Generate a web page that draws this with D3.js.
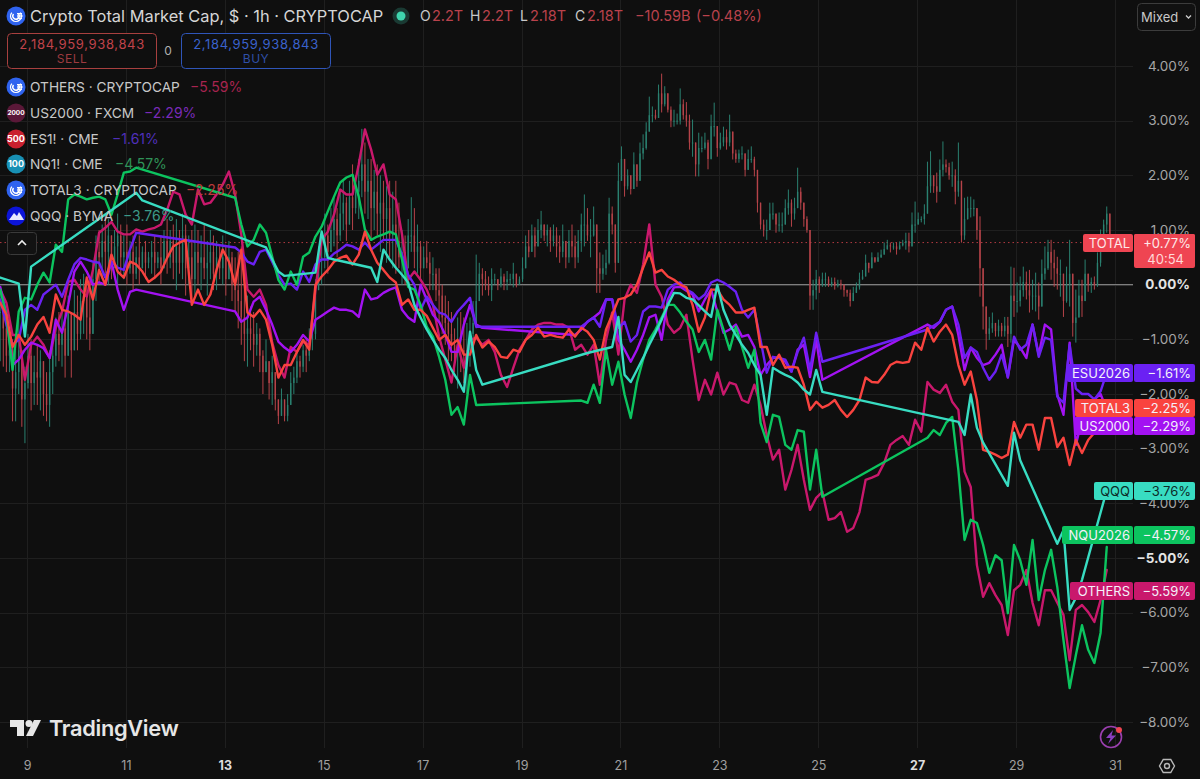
<!DOCTYPE html>
<html><head><meta charset="utf-8">
<script src="https://cdn.jsdelivr.net/npm/d3@7"></script>
<style>
html,body{margin:0;padding:0;background:#0f0f0f;overflow:hidden}
svg{display:block}
text{font-family:Inter,"Noto Sans",sans-serif}
</style></head><body><svg id="chart" width="1200" height="779"></svg>
<script>
// Percent change readings, one row = two days. Line samples every 3 hours, null = market closed.
const others = [
-0.09,-0.33,-0.92,-0.92,-1.74,-1.10,-0.95,-1.10,-1.34,-0.79,-0.49,0.05,0.09,-0.09,-0.22,0.27,
0.95,1.04,1.15,0.97,0.92,0.92,1.01,0.97,1.01,1.04,1.10,1.37,1.70,1.65,1.28,1.10,
1.74,1.47,1.50,1.65,1.83,2.07,1.65,0.92,-0.09,-0.22,-0.09,-0.37,-1.06,-1.47,-1.70,-1.14,
-1.23,-1.04,-1.10,-0.09,0.82,0.97,1.28,1.74,1.65,1.65,2.20,2.84,2.47,2.01,2.20,1.65,
1.56,0.92,0.09,0.24,0.09,-0.09,-0.37,-0.95,-1.37,-1.79,-1.10,-1.52,-1.01,-0.97,-1.10,-1.01,
-1.23,-1.65,-1.87,-1.52,-1.19,-1.01,-0.82,-0.73,-0.70,-0.70,-0.73,-0.73,-0.79,-1.19,-1.10,-1.28,
-1.10,-1.83,-1.01,-0.51,-1.28,-0.27,0,-0.15,0.37,1.10,0,-0.22,-0.73,-0.88,-0.79,-0.55,
-1.37,-2.11,-1.74,-2.01,-1.61,-2.01,-1.79,-1.83,-2.11,-2.16,-1.83,-2.20,-2.75,-3.20,-3.02,-3.75,
-3.39,-2.93,-3.57,-4.12,-3.90,-3.79,-4.30,-4.27,-4.16,-4.52,-4.45,-4.16,-3.57,-3.53,-3.48,-3.26,
-2.93,-2.84,-2.77,-2.93,-2.47,-2.69,-1.78,-1.92,-1.98,-1.83,-2.14,-2.29,-3.42,-3.70,-5.13,-5.71,
-5.46,-5.68,-5.86,-6.41,-5.59,-5.49,-5.22,-5.82,-6.23,-5.59,-5.59,-5.82,-6.04,-6.87,-5.95,-5.86,
-5.99,-6.17,-5.77,-5.22];
const us2000 = [
-0.04,-0.55,-1.47,-1.37,-1.19,-1.06,-1.10,-1.16,-1.34,-0.64,-0.88,-0.37,0.24,0.42,0.24,0,
0.04,0,0.42,-0.09,-0.46,-0.13,-0.09,null,null,null,null,null,null,null,null,null,
null,null,null,null,null,null,-0.49,-0.68,-0.60,-0.31,-0.22,-0.46,-0.73,-1.04,-1.15,-1.23,
-1.10,-0.92,-1.04,-0.64,-0.57,-0.49,-0.42,-0.46,-0.46,-0.49,-0.59,-0.09,-0.27,-0.24,-0.15,-0.09,
-0.05,-0.46,-0.60,-0.68,0,-0.27,-0.55,-0.68,-0.92,-1.23,-1.23,-0.73,-0.37,-0.73,-0.79,null,
null,null,null,null,null,null,null,null,null,null,null,null,null,-0.92,-0.82,-0.68,
-0.60,-0.51,-0.27,-0.27,-1.01,-1.19,-1.41,-1.19,-0.92,-0.60,-0.55,-1.01,-0.27,-0.05,-0.04,-0.11,
-0.18,-0.49,-0.27,-0.09,-0.49,-0.88,-0.82,-0.73,-0.95,-0.92,-1.14,-1.65,-1.47,-1.34,-1.34,-1.41,
-1.59,-1.19,-1.10,-1.69,-1.01,-1.74,null,null,null,null,null,null,null,null,null,null,
null,null,null,null,null,null,-0.73,-0.79,-0.68,-0.46,-0.40,-0.92,-1.56,-1.15,-1.34,-1.47,
-1.43,-1.28,-1.10,-1.70,-1.01,-1.15,-1.34,-0.73,-1.28,-0.73,-0.82,-2.01,-2.38,-1.06,-2.93,-2.47,
-2.29,-2.10,-2.00,-2.29];
const esu2026 = [
-0.27,-0.73,-1.10,-1.01,-0.46,-0.37,-0.46,-0.18,-0.09,0,-0.22,0.09,0.37,0.49,0.46,0.42,
0.40,0.13,0.42,0.31,0.27,0.64,0.95,null,null,null,null,null,null,null,null,null,
null,null,null,null,null,null,0.68,0.59,0.42,0.37,0.60,0.64,0.42,0.18,0,0.02,
-0.09,0.24,0.05,0.37,0.46,0.46,0.57,0.64,0.73,0.70,0.64,0.77,0.64,0.73,0.82,0.82,
0.82,0.55,0.18,0,-0.46,-0.22,-0.37,-0.51,-0.55,-0.68,-0.49,-0.37,-0.24,-0.77,-0.77,null,
null,null,null,null,null,null,null,null,null,null,null,null,null,null,-0.77,-0.68,
-0.60,-0.77,-0.27,-0.27,-0.79,-0.68,-1.04,-0.92,-0.49,-0.40,-0.40,-0.42,-0.09,0,0.04,-0.09,
-0.15,-0.27,-0.18,0.04,0.09,0.04,-0.04,-0.13,-0.46,-0.60,-0.46,-1.01,-1.61,-1.32,-1.34,-1.37,
-1.59,-1.23,-0.97,-1.56,-0.88,-1.41,null,null,null,null,null,null,null,null,null,null,
null,null,null,null,null,null,-0.82,-0.75,-0.68,-0.46,-0.40,-0.73,-1.34,-1.15,-1.23,-1.52,
-1.74,-1.59,-1.28,-1.69,-0.95,-1.19,-1.10,-0.73,-1.32,-0.97,-1.01,-2.05,-2.16,-1.10,-1.90,-2.00,
-2.00,-2.10,-1.95,-1.61];
const nqu2026 = [
-0.09,-0.55,-1.56,-0.49,-0.24,-0.27,0,0.22,0.04,0.73,0.60,1.56,1.65,1.61,1.56,1.59,
1.61,1.56,1.28,1.65,2.05,2.07,2.14,null,null,null,null,null,null,null,null,null,
null,null,null,null,null,null,1.59,1.10,0.70,0.82,1.10,0.95,0.51,0.09,-0.09,0.24,
0,0.51,0.59,0.88,1.06,1.34,1.61,1.87,1.96,2.01,1.61,1.01,0.82,0.88,0.92,0.97,
0.92,0.46,-0.04,-0.09,-0.37,-0.77,-0.95,-1.32,-1.74,-2.38,-2.24,-2.56,-1.65,-2.20,null,null,
null,null,null,null,null,null,null,null,null,null,null,null,null,null,-2.12,-2.16,
-1.83,-2.16,-1.19,-1.83,-1.41,-2.01,-2.44,-1.79,-1.37,-1.01,-0.82,-0.60,-0.37,-0.37,-0.51,-0.68,
-0.82,-1.23,-1.01,-1.37,-0.46,-0.82,-1.19,-0.77,-1.14,-1.52,-1.19,-2.53,-2.88,-2.38,-2.42,-2.93,
-3.02,-2.66,-2.69,-3.75,-3.02,-3.88,null,null,null,null,null,null,null,null,null,null,
null,null,null,null,null,null,-2.80,-2.66,-2.75,-2.53,-2.42,-3.39,-4.67,-4.30,-4.36,-4.76,
-5.27,-4.95,-5.04,-6.01,-4.76,-5.04,-5.49,-4.67,-5.77,-5.22,-4.85,-5.53,-6.50,-7.38,-6.78,-6.23,
-6.68,-6.92,-6.37,-4.80];
const total3 = [
-0.33,-0.55,-1.14,-0.92,-1.10,-0.95,-0.73,-0.59,-0.88,-0.18,-0.46,-0.49,-0.55,-0.64,0.13,-0.27,
0.27,0,0.55,0.24,0.13,0.42,0.37,0.24,0.05,0.13,0.24,0.49,0.70,0.77,0.82,-0.37,
-0.09,-0.37,-0.18,0.27,0.64,0.42,0,0.64,-0.51,-0.59,-0.46,-0.64,-1.10,-1.70,-1.47,-1.47,
-1.23,-1.01,-1.19,0,0.15,0.27,0.42,0.49,0.53,0.37,0.55,0.97,0.64,0.40,0.27,0.13,
0.04,-0.37,-0.27,-0.46,-0.46,-0.57,-0.79,-1.01,-0.92,-1.10,-1.01,-1.28,-1.28,-0.92,-1.15,-1.04,
-1.14,-1.32,-1.34,-1.19,-1.23,-1.01,-0.92,-0.79,-0.95,-0.92,-0.95,-0.97,-0.82,-0.95,-0.79,-0.86,
-1.01,-1.37,-0.82,-0.55,-0.27,-0.24,-0.18,0,0.31,0.59,0.22,0.27,0.15,0.09,0,-0.05,
-0.37,-0.86,-0.60,-0.09,-0.09,-0.27,-0.37,-0.51,-0.51,-0.46,-0.42,-1.14,-1.14,-1.47,-1.28,-1.52,
-1.50,-1.52,-1.83,-2.29,-2.14,-2.25,-2.20,-2.11,-2.29,-2.42,-2.29,-2.11,-1.70,-1.78,-1.79,-1.65,
-1.47,-1.41,-1.43,-1.41,-1.06,-1.19,-0.79,-1.04,-0.86,-0.73,-0.92,-1.47,-1.83,-1.59,-2.11,-3.02,
-3.06,-3.11,-3.17,-3.11,-2.51,-2.80,-2.56,-2.56,-3.02,-2.44,-2.44,-2.97,-2.80,-3.30,-2.84,-3.08,
-2.84,-2.71,-2.56,-2.25];
const qqq = [
0.13,null,null,0.02,-0.95,0.33,null,null,null,null,null,null,null,null,null,null,
null,null,null,null,null,null,1.68,1.54,null,null,null,null,null,null,null,null,
null,null,null,null,null,null,null,null,null,null,null,0.68,0.46,0.24,0.16,null,
null,null,null,0.22,0.97,0.49,0.46,null,null,null,null,null,0.31,0.05,0.64,0.46,
0.31,0.18,0.04,-0.37,-0.60,-0.82,-1.01,-1.19,-1.34,-1.56,-1.74,-1.96,-0.86,-1.56,-1.83,null,
null,null,null,null,null,null,null,null,null,null,null,null,null,null,null,-1.25,
null,null,null,-1.14,-0.59,-1.65,-1.78,-1.56,-1.34,-1.10,-0.88,-0.64,-0.37,-0.15,-0.16,-0.24,
-0.27,-0.38,-0.49,-0.59,0,-0.46,-0.73,-0.92,-1.10,-1.25,-1.47,-1.65,-2.38,-1.52,-1.59,-1.65,
-1.70,-1.79,-1.92,-2.01,-1.56,-1.96,null,null,null,null,null,null,null,null,null,null,
null,null,null,null,null,null,null,null,null,null,null,-2.51,-2.75,-2.01,-2.62,-2.89,
null,null,null,-3.68,-2.71,-3.21,null,null,null,null,null,-4.74,-4.49,-5.95,-5.73,-5.40,
null,null,null,-3.76];

// TOTAL candles, every 1.5 hours. Open of a candle is the close before it.
const candleClose = [
-0.5,-0.8,-1.3,-1.2,-1.9,-1.6,-1.2,-2.1,-1.8,-1.3,-1.8,-1.6,-1.7,-1.4,-2.0,-2.2,-1.6,-1.3,-0.9,-1.1,-0.8,-1.3,-0.5,-1.2,-0.5,-0.9,-0.3,-0.2,-0.6,-0.9,0.1,0.6,
0.5,0.8,0.6,0.9,0.4,0.7,0.9,0.5,0.6,0.3,0.6,0.2,0.5,0.3,0.6,0.4,0.5,0.6,0.4,0.5,0.3,0.8,0.5,0.8,0.4,0.7,0.4,0.9,0.3,0.5,0.1,0.6,
0.4,0.5,0.3,0.4,0.6,0.2,0.5,0.3,0.5,0.1,0.5,0,-0.1,-0.3,-0.6,-0.9,-0.8,-0.9,-1.1,-0.9,-1.3,-1.6,-1.4,-1.8,-1.6,-2.1,-2.4,-2.1,-2.4,-2.2,-1.8,-1.7,
-1.4,-1.5,-1.2,-1.3,-1.0,-0.9,-0.1,0.5,0.5,0.9,0.6,1.0,1.2,0.9,1.3,1.5,1.1,1.6,1.4,1.7,1.9,2.2,1.7,1.9,1.4,1.7,1.3,1.5,1.2,1.4,0.9,1.1,
0.8,0.5,0.6,0.3,0.9,0.9,0.6,0.7,0.3,0.5,0.4,0.2,0.2,-0.1,-0.2,-0.6,-0.7,-0.9,-1.1,-1.2,-1.1,-1.2,-1.3,-1.2,-0.9,-0.7,-0.3,0.2,0.1,0,-0.1,0.1,
0.1,0,0.15,0.05,0.1,0.1,0.2,0,0.1,0.3,0.7,0.6,0.9,0.7,1.0,1.1,0.9,1.0,0.8,0.9,0.7,0.6,0.8,0.5,0.8,0.7,0.5,0.8,1.1,1.1,0.9,0.9,
1.1,0.3,0.2,0.3,0.4,1.3,1.1,0.4,1.9,2.3,1.8,2.0,1.75,2.2,1.9,2.4,2.5,2.8,3.1,3.1,3.05,3.5,3.3,3.5,3.2,3.0,3.0,3.0,3.3,3.1,3.0,2.6,
2.6,2.2,2.5,2.5,2.6,2.3,2.9,2.9,2.5,2.6,2.7,2.6,2.8,2.4,2.3,2.4,2.4,2.1,2.3,2.3,2.1,1.5,1.1,1.0,1.0,1.3,1.3,1.1,1.1,1.1,1.4,1.5,
1.3,1.4,1.7,1.5,1.2,1.0,-0.2,-0.1,0.1,0,0.1,0.1,0,0.05,-0.02,0.02,0,-0.1,-0.15,-0.3,-0.15,-0.05,0.1,0.15,0.4,0.3,0.5,0.42,0.5,0.55,0.65,0.72,
0.7,0.7,0.65,0.72,0.76,0.8,0.7,1.1,1.1,1.2,1.2,1.3,1.8,2.0,1.8,1.7,2.1,2.2,2.15,2.0,2.0,1.7,1.9,0.9,1.2,1.4,1.4,1.4,1.0,0.3,-0.4,-0.9,
-0.8,-0.7,-0.85,-0.75,-0.85,-0.75,-0.9,-0.2,-0.3,-0.3,-0.1,0.05,-0.1,-0.2,-0.2,-0.2,-0.4,0.2,0.3,0.6,0.4,0.3,0.2,0.2,-0.3,0,0.2,-0.7,-0.6,-0.2,-0.3,0.2,
0,0.05,0,0.4,0.9,1.1,1.3,0.77];
const candleHigh = [
-0.1,-0.3,-0.6,-0.8,-1.0,-1.0,-0.6,-1.2,-1.5,-0.9,-1.0,-1.3,-1.1,-1.2,-1.4,-1.6,-1.2,-0.9,-0.6,-0.5,-0.4,-0.5,-0.2,-0.5,-0.1,-0.2,0.1,0.2,0.1,-0.1,0.4,0.9,
1.0,1.1,1.3,1.2,0.9,1.0,1.3,1.1,0.9,1.1,0.8,0.9,0.7,0.9,0.7,0.8,0.6,0.8,0.9,0.6,0.9,1.0,1.2,1.0,1.1,1.2,1.0,1.3,1.1,0.9,1.0,1.1,
1.0,0.9,1.1,0.8,1.0,0.9,0.8,0.7,0.9,0.7,0.8,0.6,0.5,0.6,0.7,0.3,-0.2,-0.4,-0.5,-0.7,-0.8,-1.2,-1.0,-1.4,-1.3,-1.6,-2.2,-1.9,-2.3,-2.0,-1.6,-1.5,
-1.2,-1.3,-1.1,-1.0,-0.8,-0.7,0.1,0.7,1.0,1.3,1.1,1.4,1.6,1.4,1.7,1.9,1.6,1.9,2.2,2.0,2.3,2.85,2.6,2.3,2.3,2.1,2.2,2.0,1.9,1.8,1.9,1.7,
1.9,1.5,1.0,0.9,1.2,1.6,1.4,1.1,0.8,0.7,0.8,0.6,0.5,0.3,0.3,0,-0.2,-0.3,-0.5,-0.8,-0.6,-0.5,-0.6,-0.7,-0.6,-0.3,0.55,0.4,0.3,0.25,0.15,0.3,
0.2,0.1,0.3,0.2,0.25,0.2,0.4,0.2,0.15,0.5,0.9,1.0,1.1,1.05,1.2,1.35,1.1,1.1,1.05,1.1,1.05,0.9,1.1,0.8,1.0,1.1,0.9,1.0,1.3,1.65,1.4,1.2,
1.43,0.95,0.59,0.55,0.64,1.59,1.43,0.88,2.23,2.53,2.11,2.11,1.92,2.42,2.16,2.6,2.75,2.97,3.44,3.26,3.2,3.66,3.86,3.63,3.26,3.26,3.2,3.13,3.59,3.39,3.34,3.11,
3.02,2.53,2.78,2.71,2.78,2.65,3.11,3.33,2.89,2.78,2.89,2.84,3.11,2.53,2.47,2.47,2.53,2.34,2.47,2.53,2.34,1.74,1.41,1.19,1.19,1.5,1.5,1.25,1.32,1.32,1.56,1.74,
1.56,1.59,2.14,1.78,1.37,1.25,0.82,0.09,0.27,0.15,0.22,0.22,0.15,0.13,0.13,0.09,0.09,-0.04,-0.09,-0.09,-0.04,0.04,0.22,0.27,0.55,0.40,0.59,0.49,0.59,0.64,0.77,0.82,
0.77,0.77,0.77,0.79,0.82,0.95,0.95,1.32,1.52,1.32,1.25,1.47,2.25,2.44,1.98,2.05,2.29,2.62,2.29,2.23,2.25,2.11,2.6,1.19,1.59,1.61,1.61,1.56,1.25,1.25,-0.09,-0.64,
-0.59,-0.51,-0.70,-0.64,-0.70,-0.59,-0.59,0.33,0.31,0.04,0.15,0.33,0.24,0.27,0.09,0.22,0.04,0.46,0.70,0.82,0.82,0.64,0.51,0.46,0.09,0.33,0.82,-0.46,-0.09,0.09,0.09,0.46,
0.15,0.13,0.15,0.59,1.01,1.19,1.43,1.28];
const candleLow = [
-1.4,-1.5,-1.6,-1.6,-2.5,-2.5,-2.0,-2.6,-2.9,-1.9,-2.3,-2.2,-2.2,-2.3,-2.4,-2.5,-2.6,-2.0,-1.5,-1.4,-1.5,-1.7,-1.3,-1.7,-1.1,-1.2,-1.0,-0.9,-1.0,-1.2,-0.6,-0.3,
0,0.1,0.2,0,0.1,0.3,0,0.2,0.1,0,0.2,-0.1,0.1,0,0.3,0.1,0.3,0.2,0.1,0.3,0,0.4,0.2,0.3,0.1,-0.1,0.2,0.1,-0.2,0,-0.3,-0.2,
0,-0.1,0.1,-0.2,0.1,-0.1,-0.1,0.1,0,-0.2,0.1,-0.3,-0.5,-0.8,-1.1,-1.4,-1.5,-1.2,-1.5,-1.3,-1.6,-2.0,-1.6,-2.1,-2.2,-2.3,-2.55,-2.3,-2.5,-2.5,-2.1,-2.0,
-1.8,-1.7,-1.6,-1.6,-1.4,-1.2,-1.0,-0.1,0,0.3,0.2,0.6,0.7,0.5,0.8,1.0,0.8,1.1,1.0,1.3,1.2,1.6,1.3,1.2,0.8,1.0,0.9,0.6,0.8,0.4,0.5,0.3,
0.2,0.3,0,0,0.4,0.6,0.3,0.2,0.1,0.3,0.3,-0.1,-0.1,-0.3,-0.7,-0.9,-1.1,-1.4,-1.4,-1.6,-1.9,-1.6,-1.8,-2.0,-1.5,-1.2,-0.8,-0.3,-0.2,-0.1,-0.2,-0.3,
0,-0.1,-0.05,-0.1,-0.1,0,-0.05,-0.05,0,0.05,0.4,0.5,0.6,0.5,0.7,0.85,0.8,0.7,0.6,0.7,0.5,0.4,0.5,0.3,0.4,0.5,0.3,0.4,0.6,0.7,0.8,0.5,
0.88,-0.15,-0.15,0.09,0.18,0.37,0.92,0.22,0.7,2.05,1.61,1.74,1.65,1.79,1.79,2.16,2.29,2.47,2.97,2.97,3.02,3.11,3.15,3.26,3.15,2.88,2.89,2.93,2.93,3.02,2.89,2.47,
2.34,1.98,1.98,2.42,2.47,2.11,2.29,2.71,2.34,2.47,2.53,2.47,2.53,2.29,2.23,2.23,2.29,1.98,2.11,2.23,1.98,1.32,1.01,0.88,0.82,1.06,1.19,0.95,0.97,0.95,1.19,1.28,
1.06,1.19,1.52,1.37,1.06,0.95,-0.46,-0.46,-0.27,-0.15,-0.04,-0.04,-0.04,-0.04,-0.09,-0.05,-0.09,-0.22,-0.22,-0.4,-0.27,-0.15,-0.09,0.09,0.24,0.22,0.4,0.4,0.42,0.49,0.59,0.64,
0.59,0.64,0.55,0.64,0.70,0.64,0.59,0.82,0.95,1.14,1.14,1.10,1.47,1.68,1.68,1.50,1.87,1.98,2.05,1.92,1.79,1.47,1.61,0.77,0.82,1.19,1.23,1.25,0.82,-0.22,-0.82,-1.19,
-1.01,-0.88,-0.95,-0.95,-0.95,-0.95,-1.14,-1.06,-0.59,-0.51,-0.40,-0.22,-0.27,-0.51,-0.46,-0.49,-0.64,-0.15,0.09,0.27,0.09,-0.04,-0.09,-0.22,-0.59,-0.33,-0.40,-0.95,-1.06,-0.46,-0.59,-0.15,
-0.13,-0.15,-0.09,-0.04,0.33,0.77,0.95,0.77];

const dayTicks = [9,11,13,15,17,19,21,23,25,27,29,31];
const boldDays = [13,27];
const pctTicks = [4,3,2,1,0,-1,-2,-3,-4,-5,-6,-7,-8];
const boldPct = [0,-5];
const firstDay = 8.458;
const lineStepDays = 3/24;
const candleStepDays = 1.5/24;
const lastPct = 0.77;

const seriesNames = ["OTHERS","US2000","ESU2026","NQU2026","TOTAL3","QQQ"];
const seriesLegend = ["OTHERS · CRYPTOCAP","US2000 · FXCM","ES1! · CME","NQ1! · CME","TOTAL3 · CRYPTOCAP","QQQ · BYMA"];
const seriesLast = [-5.59,-2.29,-1.61,-4.57,-2.25,-3.76];
const seriesData = [others,us2000,esu2026,nqu2026,total3,qqq];
const seriesColor = ["#c9186c","#a312f2","#6b21f3","#0cc45f","#f9433f","#38dcc2"];
const legendColor = ["#a8244f","#7a2bb8","#4f2fbb","#2f9358","#bb3a3a","#3c9a88"];

const fmtPct = v => (v<0?"\u2212":"")+Math.abs(v).toFixed(2)+"%";

const svg = d3.select("#chart");
const x = d3.scaleLinear().domain([9,31]).range([27,1115]);
const y = d3.scaleLinear().domain([-8,4]).range([722,66]);
const plotRight = 1133, gridBottom = 748;

svg.append("rect").attr("width",1200).attr("height",779).attr("fill","#0f0f0f");

// grid
const grid = svg.append("g").attr("stroke","#1f1f1f").attr("stroke-width",1);
grid.selectAll("line.h").data(pctTicks).join("line").attr("x1",0).attr("x2",plotRight)
  .attr("y1",d=>Math.round(y(d))+.5).attr("y2",d=>Math.round(y(d))+.5);
grid.selectAll("line.v").data(dayTicks).join("line").attr("class","v").attr("y1",0).attr("y2",gridBottom)
  .attr("x1",d=>Math.round(x(d))+.5).attr("x2",d=>Math.round(x(d))+.5);

// zero and last price lines
svg.append("line").attr("x1",0).attr("x2",plotRight).attr("y1",y(0)).attr("y2",y(0)).attr("stroke","#7e7e7e").attr("stroke-width",1.3);
svg.append("line").attr("x1",0).attr("x2",1083).attr("y1",y(lastPct)).attr("y2",y(lastPct))
  .attr("stroke","#b33a42").attr("stroke-width",1).attr("stroke-dasharray","1.5 3");

// candles
const candles = candleClose.map((c,i)=>({
  t:firstDay+i*candleStepDays, c, h:candleHigh[i], l:candleLow[i], o:i?candleClose[i-1]:c
}));
const candleUp="#2a8070", candleDown="#b64349";
const gc = svg.append("g");
gc.selectAll("line").data(candles).join("line")
  .attr("x1",d=>x(d.t)).attr("x2",d=>x(d.t)).attr("y1",d=>y(Math.max(d.h,d.o,d.c))).attr("y2",d=>y(Math.min(d.l,d.o,d.c)))
  .attr("stroke",d=>d.c>=d.o?candleUp:candleDown).attr("stroke-width",1);
gc.selectAll("rect").data(candles).join("rect")
  .attr("x",d=>x(d.t)-.7).attr("width",1.4)
  .attr("y",d=>y(Math.max(d.o,d.c))).attr("height",d=>Math.max(1,Math.abs(y(d.o)-y(d.c))))
  .attr("fill",d=>d.c>=d.o?candleUp:candleDown);

// overlay lines
const lineGen = d3.line().x(d=>x(d.t)).y(d=>y(d.v)).curve(d3.curveLinear);
seriesData.forEach((vals,k)=>{
  const pts = vals.map((v,i)=>({t:firstDay+i*lineStepDays,v})).filter(d=>d.v!==null);
  svg.append("path").attr("d",lineGen(pts)).attr("fill","none").attr("stroke",seriesColor[k])
    .attr("stroke-width",2.4).attr("stroke-linejoin","round").attr("stroke-linecap","round");
});

// axes
const yAxis = d3.axisRight(y).tickValues(pctTicks).tickSize(0).tickPadding(0).tickFormat(fmtPct);
const ya = svg.append("g").attr("transform","translate(1190,0)").call(yAxis);
ya.select(".domain").remove();
ya.selectAll("text").attr("text-anchor","end").attr("font-size",13.5).attr("fill",d=>boldPct.includes(d)?"#e4e4e4":"#a6a6a6")
  .attr("font-weight",d=>boldPct.includes(d)?700:400).style("font-family","Inter");
const xAxis = d3.axisBottom(x).tickValues(dayTicks).tickSize(0).tickPadding(0).tickFormat(d=>d);
const xa = svg.append("g").attr("transform","translate(0,761)").call(xAxis);
xa.select(".domain").remove();
xa.selectAll("text").attr("font-size",12.5).attr("fill",d=>boldDays.includes(d)?"#dddddd":"#a0a0a0")
  .attr("font-weight",d=>boldDays.includes(d)?700:400).style("font-family","Inter");

// price tags
const tagLeft = {OTHERS:1070,US2000:1074,ESU2026:1067,NQU2026:1062,TOTAL3:1075,QQQ:1094};
const tagTop = {OTHERS:582,US2000:417,ESU2026:364,NQU2026:526,TOTAL3:399,QQQ:482};
const tagText = {QQQ:"#0c2b27"};
function tag(name,left,top,h,fill,val,txt){
  svg.append("rect").attr("x",left).attr("y",top).attr("width",1133-left).attr("height",h).attr("rx",2).attr("fill",fill);
  svg.append("rect").attr("x",1134).attr("y",top).attr("width",61).attr("height",h).attr("rx",2).attr("fill",fill);
  svg.append("text").attr("x",1130).attr("y",top+9).attr("dy","0.36em").attr("text-anchor","end").attr("font-size",13).attr("fill",txt).text(name);
  svg.append("text").attr("x",1191).attr("y",top+9).attr("dy","0.36em").attr("text-anchor","end").attr("font-size",13).attr("fill",txt).text(val);
}
svg.append("rect").attr("x",1134).attr("y",234).attr("width",61).attr("height",34).attr("rx",2).attr("fill","#ef4552");
tag("TOTAL",1083,234,18,"#ef4552","+"+lastPct.toFixed(2)+"%","#fde8e8");
svg.append("text").attr("x",1184).attr("y",259).attr("dy","0.36em").attr("text-anchor","end").attr("font-size",13).attr("fill","#ffd9d9").text("40:54");
seriesNames.forEach((n,k)=>tag(n,tagLeft[n],tagTop[n],18,seriesColor[k],fmtPct(seriesLast[k]),tagText[n]||"#f4f0fa"));

// header
function cryptoIcon(cx,cy){
  const g=svg.append("g").attr("transform",`translate(${cx},${cy})`);
  g.append("circle").attr("r",9.5).attr("fill","#2f63ef");
  const a=d3.arc();
  [[5.4],[3.2]].forEach(([r])=>g.append("path").attr("d",a({innerRadius:r-.7,outerRadius:r+.7,startAngle:.9,endAngle:5.4})).attr("fill","#fff"));
  g.append("rect").attr("x",1).attr("y",-3).attr("width",5).attr("height",1.4).attr("fill","#fff");
  g.append("rect").attr("x",1).attr("y",-.7).attr("width",5.6).attr("height",1.4).attr("fill","#fff");
  g.append("rect").attr("x",1).attr("y",1.6).attr("width",5).attr("height",1.4).attr("fill","#fff");
}
function textIcon(cx,cy,fill,label,fs){
  svg.append("circle").attr("cx",cx).attr("cy",cy).attr("r",9.5).attr("fill",fill);
  svg.append("text").attr("x",cx).attr("y",cy).attr("dy","0.36em").attr("text-anchor","middle").attr("font-size",fs).attr("font-weight",700).attr("fill","#fff").text(label);
}
cryptoIcon(16,16);
const T=(xp,yp,s,fs,fill,extra={})=>{const t=svg.append("text").attr("x",xp).attr("y",yp).attr("dy","0.36em").attr("font-size",fs).attr("fill",fill).text(s);
  Object.entries(extra).forEach(([k,v])=>t.attr(k,v));return t;};
T(30,16,"Crypto Total Market Cap, $ · 1h · CRYPTOCAP",16.4,"#d6d6d6");
svg.append("circle").attr("cx",401).attr("cy",16).attr("r",8.5).attr("fill","#1a3a33");
svg.append("circle").attr("cx",401).attr("cy",16).attr("r",4.5).attr("fill","#3fd4ad");
[[420,"O",432,"2.2T"],[470,"H",482,"2.2T"],[520,"L",530,"2.18T"],[575,"C",587,"2.18T"]].forEach(([a,b,c,d])=>{
  T(a,16,b,14,"#c8c8c8"); T(c,16,d,14.5,"#b9424c");
});
T(635,16,"\u221210.59B",14.5,"#b9424c"); T(696,16,"(\u22120.48%)",14.5,"#b9424c");

// order boxes
const orderValue="2,184,959,938,843";
svg.append("rect").attr("x",7.5).attr("y",33.5).attr("width",149).attr("height",35).attr("rx",4).attr("fill","#0f0f0f").attr("stroke","#a8403f");
svg.append("rect").attr("x",181.5).attr("y",33.5).attr("width",149).attr("height",35).attr("rx",4).attr("fill","#0f0f0f").attr("stroke","#2f55b8");
T(82,44,orderValue,13,"#c0434b",{"text-anchor":"middle","letter-spacing":"0.65"});
T(72,59,"SELL",12,"#9d3a3f",{"text-anchor":"middle","letter-spacing":"0.5"});
T(256,44,orderValue,13,"#3a62cc",{"text-anchor":"middle","letter-spacing":"0.65"});
T(256,59,"BUY",12,"#2f50a8",{"text-anchor":"middle","letter-spacing":"0.5"});
T(168,51,"0",12,"#b0b0b0",{"text-anchor":"middle"});

// legend
const legendY=[87,113,139,164,190,216];
const legendValX=[190,144,112,115,186,123];
cryptoIcon(16,legendY[0]);
textIcon(16,legendY[1],"#5a1838","2000",6.5);
textIcon(16,legendY[2],"#c9202f","500",9);
textIcon(16,legendY[3],"#1890b4","100",9);
cryptoIcon(16,legendY[4]);
svg.append("circle").attr("cx",16).attr("cy",legendY[5]).attr("r",9.5).attr("fill","#0c14d8");
svg.append("path").attr("d",d3.line()([[9,220],[14,213],[17,216],[19,212],[24,220]])).attr("fill","#e8e8ff");
seriesLegend.forEach((s,k)=>{
  T(30,legendY[k],s,13.7,"#c8c8c8");
  T(legendValX[k],legendY[k],fmtPct(seriesLast[k]),14,legendColor[k]);
});

// collapse button
svg.append("rect").attr("x",7.5).attr("y",232.5).attr("width",29).attr("height",22).attr("rx",3).attr("fill","#121212").attr("stroke","#3a3a3a");
svg.append("path").attr("d","M18 245 L22 241 L26 245").attr("fill","none").attr("stroke","#eee").attr("stroke-width",1.6);

// Mixed dropdown
svg.append("rect").attr("x",1137.5).attr("y",3.5).attr("width",58).attr("height",27).attr("rx",4).attr("fill","#111").attr("stroke","#3c3c3c");
T(1141,17,"Mixed",13,"#c8c8c8");
svg.append("path").attr("d","M1186 15.5 L1188.5 18 L1191 15.5").attr("fill","none").attr("stroke","#ccc").attr("stroke-width",1.3);

// TradingView logo
const logo=svg.append("g").attr("fill","#e6e6e6");
logo.append("path").attr("d","M10 720 H24 V736 H17 V727 H10 Z");
logo.append("circle").attr("cx",29).attr("cy",723.5).attr("r",3.5);
logo.append("path").attr("d","M34 720 H41 L33 736 H26 Z");
T(49,728,"TradingView",21.8,"#e6e6e6",{"font-weight":600,"letter-spacing":"-0.3"});

// lightning and settings
svg.append("circle").attr("cx",1111).attr("cy",737).attr("r",10.5).attr("fill","none").attr("stroke","#9a3fae").attr("stroke-width",1.6);
svg.append("path").attr("d","M1113 730 L1106 738 H1110.5 L1108 744 L1116 735.5 H1111.5 Z").attr("fill","#8a3fc0");
svg.append("circle").attr("cx",1119).attr("cy",730).attr("r",3).attr("fill","#ef4552");
const hex=d3.range(6).map(i=>[1167+7.5*Math.cos(i*Math.PI/3),766+7.5*Math.sin(i*Math.PI/3)]);
svg.append("path").attr("d",d3.line()(hex)+"Z").attr("fill","none").attr("stroke","#b8b8b8").attr("stroke-width",1.4);
svg.append("circle").attr("cx",1167).attr("cy",766).attr("r",2.5).attr("fill","none").attr("stroke","#b8b8b8").attr("stroke-width",1.4);
</script></body></html>
